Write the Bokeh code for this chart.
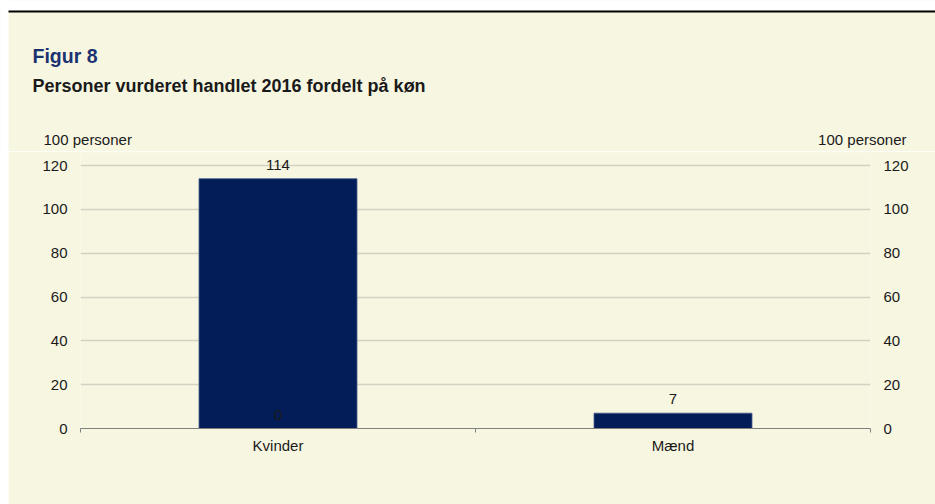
from bokeh.plotting import figure
from bokeh.models import (ColumnDataSource, Range1d, LinearAxis, FixedTicker,
                          LabelSet)
from bokeh.layouts import column, row
from bokeh.core.properties import value
from bokeh.embed import file_html
from bokeh.resources import INLINE

# ---- data ----
categories = ["Kvinder", "Mænd"]
values = [114, 7]
extra_categories = ["Kvinder"]
extra_values = [0]
y_ticks = [0, 20, 40, 60, 80, 100, 120]
title = "Figur 8"
subtitle = "Personer vurderet handlet 2016 fordelt på køn"
unit_label = "100 personer"

FONT = "Liberation Sans"
BG = "#F7F6E1"
BAR = "#031D59"
TXT = "#1A1A1A"
W, H = 935, 504
HEAD = 151

# ---- header (titles, unit labels, top rule) ----
hd = figure(width=W, height=HEAD, output_backend="svg", toolbar_location=None,
            x_range=Range1d(0, W), y_range=Range1d(HEAD, 0),
            x_axis_type=None, y_axis_type=None, min_border=0)
hd.grid.visible = False
hd.outline_line_color = None
hd.background_fill_color = BG
hd.border_fill_color = BG
hd.quad(left=-5, right=W + 5, top=-5, bottom=10, fill_color="white", line_color=None)
hd.quad(left=-5, right=8, top=-5, bottom=HEAD + 5, fill_color="white", line_color=None)
hd.quad(left=8, right=W + 5, top=10, bottom=12, fill_color="black", line_color=None)

def htext(txt, x, y, size, bold=False, color=TXT, align="left"):
    hd.text(x=[x], y=[y], text=[txt], text_font=value(FONT), text_font_size=size,
            text_font_style="bold" if bold else "normal", text_color=color,
            text_align=align, text_baseline="middle")

htext(title, 32, 55, "19.5px", bold=True, color="#1B3270")
htext(subtitle, 32, 85, "18px", bold=True)
htext(unit_label, 43, 139, "15px")
htext(unit_label, 906, 139, "15px", align="right")

# ---- chart ----
CW = W - 8
CH = H - HEAD
p = figure(width=CW, height=CH, output_backend="svg", toolbar_location=None,
           x_range=Range1d(0, len(categories)), y_range=Range1d(0, 125.5),
           min_border_left=72, min_border_right=65, min_border_top=2,
           min_border_bottom=76)
p.background_fill_color = BG
p.border_fill_color = BG
p.outline_line_color = None

xs = [i + 0.5 for i in range(len(categories))]
src = ColumnDataSource(dict(x=xs, top=values, lab=[str(v) for v in values]))
p.vbar(x="x", top="top", width=0.4, source=src, fill_color=BAR,
       line_color="#4A5F8A", line_width=0.8)

ex_x = [categories.index(c) + 0.5 for c in extra_categories]
src2 = ColumnDataSource(dict(x=ex_x, y=extra_values, lab=[str(v) for v in extra_values]))

for s, ycol in ((src, "top"), (src2, "y")):
    p.add_layout(LabelSet(x="x", y=ycol, text="lab", source=s, text_align="center",
                          text_baseline="alphabetic", y_offset=9,
                          text_font=value(FONT), text_font_size="15px",
                          text_color=TXT))

# axes
p.xaxis.ticker = FixedTicker(ticks=xs, minor_ticks=list(range(len(categories) + 1)))
p.xaxis.major_label_overrides = {x: c for x, c in zip(xs, categories)}
p.xaxis.major_tick_line_color = None
p.xaxis.major_tick_out = 0
p.xaxis.major_tick_in = 0
p.xaxis.minor_tick_line_color = "#808080"
p.xaxis.minor_tick_out = 4
p.xaxis.minor_tick_in = 0
p.xaxis.axis_line_color = "#808080"
p.xaxis.axis_line_width = 1.2
p.xaxis.major_label_standoff = 4
p.xaxis.major_label_text_font = FONT
p.xaxis.major_label_text_font_size = "15px"
p.xaxis.major_label_text_color = TXT

p.yaxis.ticker = FixedTicker(ticks=y_ticks)
right = LinearAxis(ticker=FixedTicker(ticks=y_ticks))
p.add_layout(right, "right")
for ax in (p.yaxis[0], right):
    ax.axis_line_color = None
    ax.major_tick_line_color = None
    ax.minor_tick_line_color = None
    ax.major_tick_out = 0
    ax.major_tick_in = 0
    ax.major_label_standoff = 13
    ax.major_label_text_font = FONT
    ax.major_label_text_font_size = "15px"
    ax.major_label_text_color = TXT

p.xgrid.grid_line_color = None
p.ygrid.ticker = FixedTicker(ticks=y_ticks[1:])
p.ygrid.grid_line_color = "#D2D1C2"
p.ygrid.grid_line_width = 1.5

# white left margin strip
strip = figure(width=8, height=CH, output_backend="svg", toolbar_location=None,
               x_axis_type=None, y_axis_type=None, min_border=0)
strip.grid.visible = False
strip.outline_line_color = None
strip.background_fill_color = "white"
strip.border_fill_color = "white"

layout = column(hd, row(strip, p))
html = file_html(layout, INLINE)
html = html.replace("<body>", '<body style="margin:0;background:%s">' % BG, 1)
open("out.html", "w").write(html)
